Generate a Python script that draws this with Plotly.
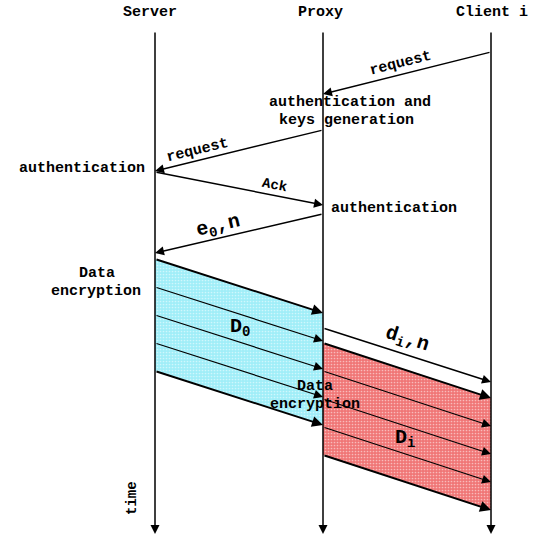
import math
import plotly.graph_objects as go

# ---------------- data ----------------
lanes = ["Server", "Proxy", "Client i"]
lane_start = 31
lane_end = 534

msg_from = ["Client i", "Proxy", "Server", "Proxy", "Proxy"]
msg_to = ["Proxy", "Server", "Proxy", "Server", "Client i"]
msg_send = [52, 130, 172, 214, 328]
msg_recv = [94, 171, 205, 253, 382]
msg_label = ["request", "request", "Ack", "e<sub>0</sub>,n", "d<sub>i</sub>,n"]

block_from = ["Server", "Proxy"]
block_to = ["Proxy", "Client i"]
block_send = [[259, 287, 315, 343, 371], [343, 371, 399, 427, 455]]
block_delay = [54, 55]
block_label = ["D<sub>0</sub>", "D<sub>i</sub>"]

note_lane = ["Proxy", "Proxy", "Server", "Proxy", "Server", "Server", "Proxy", "Proxy"]
note_time = [102, 120, 168, 208, 273, 291, 386, 404]
note_text = ["authentication and", "keys generation", "authentication", "authentication",
             "Data", "encryption", "Data", "encryption"]

# ---------------- style ----------------
W, H = 537, 538
LANE_PX = 168.0
X0 = 155.0
FONT = "Liberation Mono, Courier New, monospace"
msg_label_style = [(0.52, 11, 15), (0.73, 10, 15), (0.70, 10, 14), (0.61, 12, 20), (0.47, 15, 20)]
note_style = [(27, "center"), (23, "center"), (-8, "right"), (6, "left"),
              (-58, "center"), (-59, "center"), (-8, "center"), (-8, "center")]
block_fill = ["rgb(160,238,248)", "rgb(240,118,118)"]
block_label_style = [(0.506, -15, 20), (0.49, 13, 20)]
header_shift = [-5, -3, 1]

lx = {name: i for i, name in enumerate(lanes)}

fig = go.Figure()


def arrow(x0, y0, x1, y1, width=1.5, size=1.0):
    fig.add_annotation(x=x1, y=y1, ax=x0, ay=y0, xref="x", yref="y", axref="x", ayref="y",
                       text="", showarrow=True, arrowhead=2, arrowsize=size,
                       arrowwidth=width, arrowcolor="black", standoff=0, startstandoff=0)


def line_geom(xa, ya, xb, yb):
    dxp = (xb - xa) * LANE_PX
    dyp = (yb - ya)
    if dxp < 0:
        dxp, dyp = -dxp, -dyp
    L = math.hypot(dxp, dyp)
    return dxp / L, dyp / L


def bold(t):
    return "<b>" + t + "</b>"


# blocks (fill first)
for b in range(len(block_from)):
    xa, xb = lx[block_from[b]], lx[block_to[b]]
    s = block_send[b]
    d = block_delay[b]
    fig.add_trace(go.Scatter(x=[xa, xb, xb, xa, xa], y=[s[0], s[0] + d, s[-1] + d, s[-1], s[0]],
                             mode="lines", fill="toself", fillcolor=block_fill[b],
                             fillpattern=dict(shape=".", fgcolor="white", bgcolor=block_fill[b],
                                              size=3, solidity=0.25),
                             line=dict(width=0), hoverinfo="skip", showlegend=False))

# lifelines
for name in lanes:
    arrow(lx[name], lane_start, lx[name], lane_end, width=1.5, size=1.2)

# headers
for i, name in enumerate(lanes):
    fig.add_annotation(x=lx[name], y=12, xref="x", yref="y", text=bold(name), showarrow=False,
                       xshift=header_shift[i], font=dict(family=FONT, size=15, color="black"))

# messages
for i in range(len(msg_from)):
    xa, xb = lx[msg_from[i]], lx[msg_to[i]]
    ya, yb = msg_send[i], msg_recv[i]
    arrow(xa, ya, xb, yb, width=1.5, size=1.2)
    frac, off, fs = msg_label_style[i]
    ux, uy = line_geom(xa, ya, xb, yb)
    px = xa + (xb - xa) * frac
    py = ya + (yb - ya) * frac
    ang = math.degrees(math.atan2(uy, ux))
    fig.add_annotation(x=px, y=py, xref="x", yref="y", text=bold(msg_label[i]), showarrow=False,
                       textangle=ang, xshift=uy * off, yshift=ux * off,
                       font=dict(family=FONT, size=fs, color="black"))

# block arrows and labels
for b in range(len(block_from)):
    xa, xb = lx[block_from[b]], lx[block_to[b]]
    s = block_send[b]
    d = block_delay[b]
    for k, t in enumerate(s):
        w = 2.0 if k in (0, len(s) - 1) else 1.2
        arrow(xa, t, xb, t + d, width=w, size=1.5 if w < 1.5 else 1.1)
    frac, yoff, fs = block_label_style[b]
    mid = (s[0] + s[-1]) / 2 + d * frac
    fig.add_annotation(x=xa + (xb - xa) * frac, y=mid + yoff, xref="x", yref="y",
                       text=bold(block_label[b]), showarrow=False,
                       font=dict(family=FONT, size=fs, color="black"))

# notes
for i in range(len(note_text)):
    xs, anc = note_style[i]
    fig.add_annotation(x=lx[note_lane[i]], y=note_time[i], xref="x", yref="y",
                       text=bold(note_text[i]), showarrow=False, xanchor=anc, xshift=xs,
                       font=dict(family=FONT, size=15, color="black"))

# time label
fig.add_annotation(x=lx["Server"], y=498, xref="x", yref="y", text=bold("time"), showarrow=False,
                   textangle=-90, xshift=-23, font=dict(family=FONT, size=14, color="black"))

fig.update_layout(width=W, height=H, margin=dict(l=0, r=0, t=0, b=0),
                  paper_bgcolor="white", plot_bgcolor="white", showlegend=False,
                  xaxis=dict(range=[-X0 / LANE_PX, (W - X0) / LANE_PX],
                             visible=False, fixedrange=True),
                  yaxis=dict(range=[H, 0], visible=False, fixedrange=True))

fig.write_html("out.html", config={"displayModeBar": False},
               post_script="document.body.style.margin='0';document.body.style.overflow='hidden';")
